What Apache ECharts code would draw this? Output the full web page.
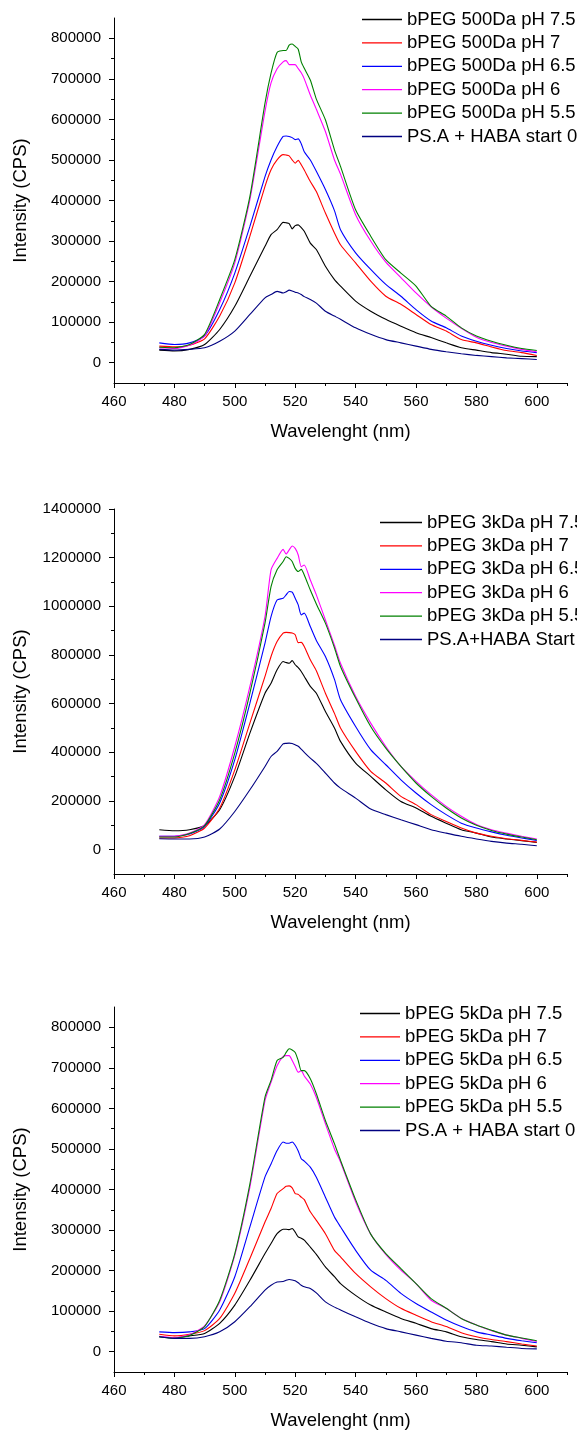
<!DOCTYPE html>
<html>
<head>
<meta charset="utf-8">
<script src="https://cdn.jsdelivr.net/npm/echarts@6/dist/echarts.min.js"></script>
<style>
  html, body { margin: 0; padding: 0; background: #fff; }
  #chart { width: 577px; height: 1432px; }
</style>
</head>
<body>
<div id="chart"></div>
<script>
// wavelength grid (nm) shared by every curve
const wavelength = [475, 480, 485, 490, 495, 500, 505, 510, 512, 514, 516, 517, 518, 519, 520, 521, 522, 523,
  525, 527, 530, 533, 535, 540, 545, 550, 555, 560, 565, 570, 575, 580, 585, 590, 595, 600];

// tick values
const xMajorTicks = [460, 480, 500, 520, 540, 560, 580, 600];
const xMinorTicks = [470, 490, 510, 530, 550, 570, 590, 610];
const yTicks800 = [0, 100000, 200000, 300000, 400000, 500000, 600000, 700000, 800000];
const yMinor800 = [50000, 150000, 250000, 350000, 450000, 550000, 650000, 750000];
const yTicks1400 = [0, 200000, 400000, 600000, 800000, 1000000, 1200000, 1400000];
const yMinor1400 = [100000, 300000, 500000, 700000, 900000, 1100000, 1300000];

// panel 1: bPEG 500Da
const names500 = ['bPEG 500Da pH 7.5', 'bPEG 500Da pH 7', 'bPEG 500Da pH 6.5', 'bPEG 500Da pH 6', 'bPEG 500Da pH 5.5', 'PS.A + HABA start 0'];
const ph75_500 = [31000, 29000, 33000, 45000, 82000, 139000, 213000, 287000, 316000, 328000, 346000, 345000, 343000, 330000, 338000, 340000, 333000, 324000, 295000, 279000, 238000, 205000, 189000, 152000, 127000, 107000, 90000, 74000, 62000, 49000, 37000, 31000, 25000, 21000, 16000, 15000];
const ph7_500 = [41000, 39000, 43000, 59000, 115000, 197000, 312000, 435000, 476000, 500000, 513000, 512000, 510000, 500000, 492000, 499000, 488000, 475000, 447000, 422000, 369000, 320000, 291000, 246000, 201000, 164000, 144000, 119000, 94000, 78000, 57000, 49000, 39000, 30000, 25000, 18000];
const ph65_500 = [49000, 45000, 49000, 66000, 131000, 221000, 336000, 459000, 500000, 533000, 558000, 559000, 558000, 555000, 550000, 552000, 540000, 520000, 500000, 472000, 427000, 375000, 328000, 271000, 230000, 193000, 164000, 131000, 103000, 86000, 66000, 53000, 43000, 35000, 29000, 25000];
const ph6_500 = [37000, 35000, 43000, 66000, 148000, 246000, 402000, 620000, 690000, 725000, 742000, 745000, 735000, 735000, 735000, 725000, 715000, 700000, 660000, 625000, 570000, 500000, 465000, 365000, 300000, 248000, 210000, 172000, 138000, 110000, 85000, 63000, 50000, 41000, 33000, 27000];
const ph55_500 = [38000, 37000, 45000, 70000, 156000, 254000, 410000, 640000, 714000, 765000, 770000, 770000, 783000, 786000, 780000, 773000, 742000, 726000, 697000, 650000, 599000, 525000, 484000, 377000, 312000, 254000, 221000, 189000, 139000, 115000, 86000, 66000, 53000, 43000, 35000, 30000];
const start_500 = [33000, 31000, 33000, 37000, 53000, 78000, 119000, 160000, 168000, 176000, 172000, 175000, 179000, 177000, 174000, 172000, 168000, 163000, 156000, 147000, 127000, 115000, 107000, 86000, 70000, 57000, 49000, 41000, 33000, 27000, 22000, 18000, 15000, 12000, 10000, 8000];

// panel 2: bPEG 3kDa
const names3k = ['bPEG 3kDa pH 7.5', 'bPEG 3kDa pH 7', 'bPEG 3kDa pH 6.5', 'bPEG 3kDa pH 6', 'bPEG 3kDa pH 5.5', 'PS.A+HABA Start'];
const ph75_3k = [82000, 78000, 82000, 99000, 164000, 301000, 479000, 643000, 684000, 739000, 773000, 769000, 766000, 777000, 760000, 748000, 732000, 712000, 671000, 643000, 568000, 500000, 445000, 356000, 301000, 246000, 198000, 171000, 137000, 109000, 82000, 68000, 52000, 44000, 37000, 30000];
const ph7_3k = [48000, 48000, 57000, 89000, 171000, 328000, 520000, 712000, 794000, 855000, 890000, 893000, 892000, 890000, 883000, 851000, 852000, 835000, 780000, 735000, 643000, 560000, 500000, 404000, 322000, 274000, 219000, 185000, 144000, 116000, 89000, 68000, 55000, 45000, 38000, 31000];
const ph65_3k = [55000, 55000, 64000, 96000, 192000, 370000, 602000, 849000, 958000, 1026000, 1033000, 1047000, 1061000, 1058000, 1033000, 1006000, 965000, 972000, 917000, 860000, 794000, 700000, 616000, 506000, 411000, 349000, 287000, 233000, 185000, 144000, 109000, 89000, 73000, 59000, 48000, 38000];
const ph6_3k = [55000, 55000, 68000, 103000, 219000, 424000, 671000, 958000, 1150000, 1197000, 1234000, 1215000, 1232000, 1248000, 1238000, 1211000, 1163000, 1170000, 1108000, 1047000, 944000, 840000, 766000, 630000, 520000, 424000, 342000, 281000, 226000, 178000, 137000, 103000, 82000, 68000, 55000, 44000];
const ph55_3k = [52000, 52000, 66000, 99000, 205000, 397000, 643000, 931000, 1081000, 1150000, 1184000, 1204000, 1197000, 1184000, 1156000, 1143000, 1152000, 1129000, 1067000, 1010000, 931000, 830000, 753000, 623000, 506000, 417000, 342000, 274000, 219000, 171000, 130000, 100000, 79000, 64000, 52000, 41000];
const start_3k = [45000, 44000, 44000, 52000, 85000, 157000, 246000, 342000, 383000, 404000, 435000, 437000, 438000, 436000, 431000, 425000, 413000, 400000, 376000, 355000, 315000, 274000, 253000, 212000, 167000, 144000, 123000, 103000, 82000, 68000, 55000, 44000, 34000, 27000, 22000, 16000];

// panel 3: bPEG 5kDa
const names5k = ['bPEG 5kDa pH 7.5', 'bPEG 5kDa pH 7', 'bPEG 5kDa pH 6.5', 'bPEG 5kDa pH 6', 'bPEG 5kDa pH 5.5', 'PS.A + HABA start 0'];
const ph75_5k = [37000, 34000, 39000, 45000, 70000, 115000, 176000, 242000, 267000, 291000, 302000, 302000, 301000, 304000, 295000, 283000, 280000, 275000, 258000, 240000, 209000, 185000, 168000, 139000, 115000, 98000, 82000, 70000, 57000, 49000, 37000, 30000, 25000, 19000, 16000, 12000];
const ph7_5k = [43000, 39000, 43000, 52000, 82000, 144000, 230000, 320000, 353000, 390000, 402000, 408000, 409000, 404000, 390000, 388000, 381000, 375000, 345000, 324000, 291000, 250000, 234000, 193000, 160000, 131000, 107000, 90000, 74000, 62000, 47000, 37000, 30000, 25000, 19000, 14000];
const ph65_5k = [49000, 47000, 49000, 57000, 103000, 185000, 308000, 431000, 463000, 496000, 517000, 514000, 514000, 517000, 509000, 495000, 476000, 470000, 455000, 430000, 381000, 332000, 308000, 250000, 201000, 176000, 144000, 119000, 98000, 78000, 62000, 49000, 41000, 33000, 27000, 22000];
const ph6_5k = [38000, 35000, 42000, 64000, 123000, 238000, 406000, 619000, 664000, 705000, 728000, 730000, 730000, 718000, 703000, 689000, 693000, 680000, 660000, 627000, 562000, 500000, 468000, 370000, 290000, 240000, 201000, 168000, 127000, 107000, 82000, 66000, 52000, 41000, 33000, 25000];
const ph55_5k = [37000, 33000, 40000, 62000, 127000, 242000, 414000, 628000, 669000, 718000, 726000, 738000, 747000, 744000, 738000, 718000, 693000, 693000, 673000, 636000, 570000, 513000, 472000, 375000, 290000, 242000, 205000, 168000, 131000, 107000, 82000, 66000, 53000, 41000, 34000, 27000];
const start_5k = [37000, 33000, 33000, 37000, 49000, 74000, 111000, 152000, 164000, 172000, 173000, 176000, 178000, 177000, 175000, 170000, 164000, 160000, 156000, 145000, 123000, 110000, 103000, 86000, 70000, 57000, 49000, 41000, 33000, 26000, 22000, 16000, 14000, 11000, 8000, 7000];

const colors = ['#000000', '#ff0000', '#0000ff', '#ff00ff', '#008000', '#000080'];

const panels = [
  { names: names500, values: [ph75_500, ph7_500, ph65_500, ph6_500, ph55_500, start_500],
    yMin: -50000, yMax: 850000, yMajor: yTicks800, yMinor: yMinor800, top: 18, legendLeft: 357, legendTop: 5, iconW: 40 },
  { names: names3k, values: [ph75_3k, ph7_3k, ph65_3k, ph6_3k, ph55_3k, start_3k],
    yMin: -100000, yMax: 1400000, yMajor: yTicks1400, yMinor: yMinor1400, top: 509, legendLeft: 375, legendTop: 508, iconW: 42 },
  { names: names5k, values: [ph75_5k, ph7_5k, ph65_5k, ph6_5k, ph55_5k, start_5k],
    yMin: -50000, yMax: 850000, yMajor: yTicks800, yMinor: yMinor800, top: 1007, legendLeft: 355, legendTop: 999, iconW: 40 }
];

const FONT = 'Liberation Sans, Arial, sans-serif';
const black = { color: '#000', width: 1 };

const grid = [], xAxis = [], yAxis = [], series = [], legend = [];

panels.forEach((p, gi) => {
  grid.push({ left: 114, right: 10, top: p.top, height: 365, containLabel: false });

  // main x axis with labels and major ticks
  xAxis.push({
    type: 'value', gridIndex: gi, position: 'bottom', min: 460, max: 610,
    axisLine: { show: true, onZero: false, lineStyle: black },
    axisTick: { show: true, inside: false, length: 5, customValues: xMajorTicks, lineStyle: black },
    axisLabel: { show: true, customValues: xMajorTicks, fontSize: 15, color: '#000', margin: 11, fontFamily: FONT },
    splitLine: { show: false },
    name: 'Wavelenght (nm)', nameLocation: 'middle', nameGap: 39,
    nameTextStyle: { fontSize: 18.5, color: '#000', fontFamily: FONT }
  });
  // overlay x axis for minor ticks
  xAxis.push({
    type: 'value', gridIndex: gi, position: 'bottom', offset: 0, min: 460, max: 610,
    axisLine: { show: false, onZero: false },
    axisTick: { show: true, inside: false, length: 3, customValues: xMinorTicks, lineStyle: black },
    axisLabel: { show: false }, splitLine: { show: false }
  });

  yAxis.push({
    type: 'value', gridIndex: gi, position: 'left', min: p.yMin, max: p.yMax,
    axisLine: { show: true, onZero: false, lineStyle: black },
    axisTick: { show: true, inside: false, length: 5, customValues: p.yMajor, lineStyle: black },
    axisLabel: { show: true, customValues: p.yMajor, fontSize: 15, color: '#000', margin: 13, fontFamily: FONT,
      formatter: v => String(v) },
    splitLine: { show: false },
    name: 'Intensity (CPS)', nameLocation: 'middle', nameGap: 84,
    nameTextStyle: { fontSize: 18.5, color: '#000', fontFamily: FONT }
  });
  yAxis.push({
    type: 'value', gridIndex: gi, position: 'left', offset: 0, min: p.yMin, max: p.yMax,
    axisLine: { show: false, onZero: false },
    axisTick: { show: true, inside: false, length: 3, customValues: p.yMinor, lineStyle: black },
    axisLabel: { show: false }, splitLine: { show: false }
  });

  p.names.forEach((name, si) => {
    series.push({
      name: name,
      type: 'line',
      xAxisIndex: gi * 2,
      yAxisIndex: gi * 2,
      symbol: 'none',
      smooth: 0.2,
      color: colors[si],
      lineStyle: { color: colors[si], width: 1.1 },
      data: wavelength.map((w, i) => [w, p.values[si][i]])
    });
  });

  legend.push({
    orient: 'vertical', left: p.legendLeft, top: p.legendTop,
    icon: 'rect', itemWidth: p.iconW, itemHeight: 1.3, itemGap: 4.4,
    data: p.names,
    selectedMode: false,
    textStyle: { fontSize: 18.5, color: '#000', fontFamily: FONT }
  });
});

const chart = echarts.init(document.getElementById('chart'), null, { renderer: 'canvas' });
chart.setOption({
  animation: false,
  backgroundColor: '#fff',
  grid, xAxis, yAxis, series, legend
});
</script>
</body>
</html>
